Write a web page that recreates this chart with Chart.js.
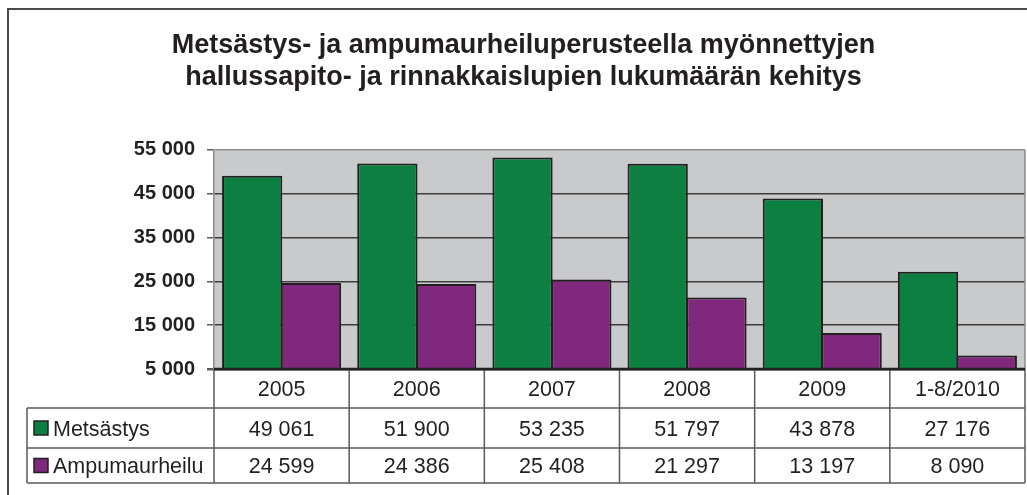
<!DOCTYPE html>
<html>
<head>
<meta charset="utf-8">
<script src="https://cdn.jsdelivr.net/npm/chart.js@4.4.0/dist/chart.umd.min.js"></script>
<style>
    body { margin: 0; background: #ffffff; }
    #chartBox { width: 1027px; height: 495px; }
</style>
</head>
<body>
<div id="chartBox"><canvas id="myChart" width="1027" height="495"></canvas></div>
<script>
// data
var years = ['2005', '2006', '2007', '2008', '2009', '1-8/2010'];
var seriesNames = ['Metsästys', 'Ampumaurheilu'];
var metsastys = [49061, 51900, 53235, 51797, 43878, 27176];
var ampumaurheilu = [24599, 24386, 25408, 21297, 13197, 8090];
var titleLines = ['Metsästys- ja ampumaurheiluperusteella myönnettyjen', 'hallussapito- ja rinnakkaislupien lukumäärän kehitys'];
var yMin = 5000;
var yMax = 55000;
var yStep = 10000;

var seriesColors = ['#0b8040', '#7f287d'];
var textColor = '#231f20';
var fontFamily = "'Liberation Sans', Arial, sans-serif";

// 49061 -> "49 061"
function fmt(v) {
    return String(v).replace(/\B(?=(\d{3})+(?!\d))/g, ' ');
}

// gray plot background + outer frame
var backgroundPlugin = {
    id: 'plotBackground',
    beforeDraw: function (chart) {
        var ctx = chart.ctx;
        var a = chart.chartArea;
        ctx.save();
        ctx.strokeStyle = '#4a4a4a';
        ctx.lineWidth = 2;
        ctx.beginPath();
        ctx.moveTo(8, 495);
        ctx.lineTo(8, 9);
        ctx.lineTo(1027, 9);
        ctx.stroke();
        ctx.fillStyle = '#c9cacc';
        ctx.fillRect(a.left, a.top, a.right - a.left, a.bottom - a.top);
        ctx.restore();
    }
};

// data table under the plot, like the office chart has
var dataTablePlugin = {
    id: 'dataTable',
    afterDraw: function (chart) {
        var ctx = chart.ctx;
        var a = chart.chartArea;
        var x = chart.scales.x;
        var n = years.length;
        var w = (a.right - a.left) / n;
        var tableLeft = 27;
        var rows = [a.bottom, a.bottom + 39, a.bottom + 79, a.bottom + 114];

        ctx.save();
        // right edge of plot
        ctx.strokeStyle = '#8c8c8e';
        ctx.lineWidth = 1.5;
        ctx.beginPath();
        ctx.moveTo(a.right, a.top);
        ctx.lineTo(a.right, a.bottom);
        ctx.stroke();

        ctx.strokeStyle = '#5a5a5a';
        ctx.lineWidth = 1.5;
        ctx.beginPath();
        for (var i = 0; i <= n; i++) {
            var lx = a.left + i * w;
            ctx.moveTo(lx, rows[0]);
            ctx.lineTo(lx, rows[3]);
        }
        ctx.moveTo(tableLeft, rows[1]);
        ctx.lineTo(tableLeft, rows[3]);
        for (var r = 1; r < rows.length; r++) {
            ctx.moveTo(tableLeft, rows[r]);
            ctx.lineTo(a.right, rows[r]);
        }
        ctx.stroke();

        // dark x axis line over the bar bottoms
        ctx.strokeStyle = textColor;
        ctx.lineWidth = 2.5;
        ctx.beginPath();
        ctx.moveTo(a.left, a.bottom);
        ctx.lineTo(a.right, a.bottom);
        ctx.stroke();

        ctx.fillStyle = textColor;
        ctx.font = '21.5px ' + fontFamily;
        ctx.textAlign = 'center';
        ctx.textBaseline = 'alphabetic';
        for (var j = 0; j < n; j++) {
            var cx = x.getPixelForValue(j);
            ctx.fillText(years[j], cx, (rows[0] + rows[1]) / 2 + 7.7);
            chart.data.datasets.forEach(function (ds, k) {
                ctx.fillText(fmt(ds.data[j]), cx, (rows[k + 1] + rows[k + 2]) / 2 + 7.7);
            });
        }

        // legend keys in the first column
        ctx.textAlign = 'left';
        chart.data.datasets.forEach(function (ds, k) {
            var mid = (rows[k + 1] + rows[k + 2]) / 2;
            ctx.fillStyle = ds.backgroundColor;
            ctx.fillRect(34, mid - 7, 14, 14);
            ctx.strokeStyle = textColor;
            ctx.lineWidth = 1.5;
            ctx.strokeRect(34, mid - 7, 14, 14);
            ctx.fillStyle = textColor;
            ctx.fillText(ds.label, 53, mid + 7.7);
        });
        ctx.restore();
    }
};

var ctx = document.getElementById('myChart');
var myChart = new Chart(ctx, {
    type: 'bar',
    data: {
        labels: years,
        datasets: [
            {
                label: seriesNames[0],
                data: metsastys,
                backgroundColor: seriesColors[0],
                borderColor: textColor,
                borderWidth: 2
            },
            {
                label: seriesNames[1],
                data: ampumaurheilu,
                backgroundColor: seriesColors[1],
                borderColor: textColor,
                borderWidth: 2
            }
        ]
    },
    options: {
        responsive: false,
        animation: false,
        devicePixelRatio: 1,
        layout: {
            padding: { left: 22, right: 2, top: 0, bottom: 126 }
        },
        datasets: {
            bar: {
                categoryPercentage: 0.87,
                barPercentage: 1.025
            }
        },
        plugins: {
            legend: { display: false },
            tooltip: { enabled: false },
            title: {
                display: true,
                text: titleLines,
                color: textColor,
                font: { family: fontFamily, size: 27, weight: 'bold', lineHeight: 1.2 },
                padding: { top: 29, bottom: 56 }
            }
        },
        scales: {
            x: {
                display: false
            },
            y: {
                min: yMin,
                max: yMax,
                afterFit: function (scale) {
                    scale.width = 192;
                },
                ticks: {
                    stepSize: yStep,
                    padding: 12,
                    color: textColor,
                    font: { family: fontFamily, size: 20, weight: 'bold' },
                    callback: function (value) {
                        return fmt(value);
                    }
                },
                grid: {
                    tickLength: 7,
                    tickColor: '#5a5a5a',
                    color: function (c) {
                        if (c.tick && c.tick.value === yMax) return '#8c8c8e';
                        if (c.tick && c.tick.value === yMin) return textColor;
                        return '#3c3c3c';
                    },
                    lineWidth: function (c) {
                        if (c.tick && c.tick.value === yMin) return 2.5;
                        return 1.5;
                    }
                },
                border: { display: true, color: '#8c8c8e', width: 1.5 }
            }
        }
    },
    plugins: [backgroundPlugin, dataTablePlugin]
});
</script>
</body>
</html>
